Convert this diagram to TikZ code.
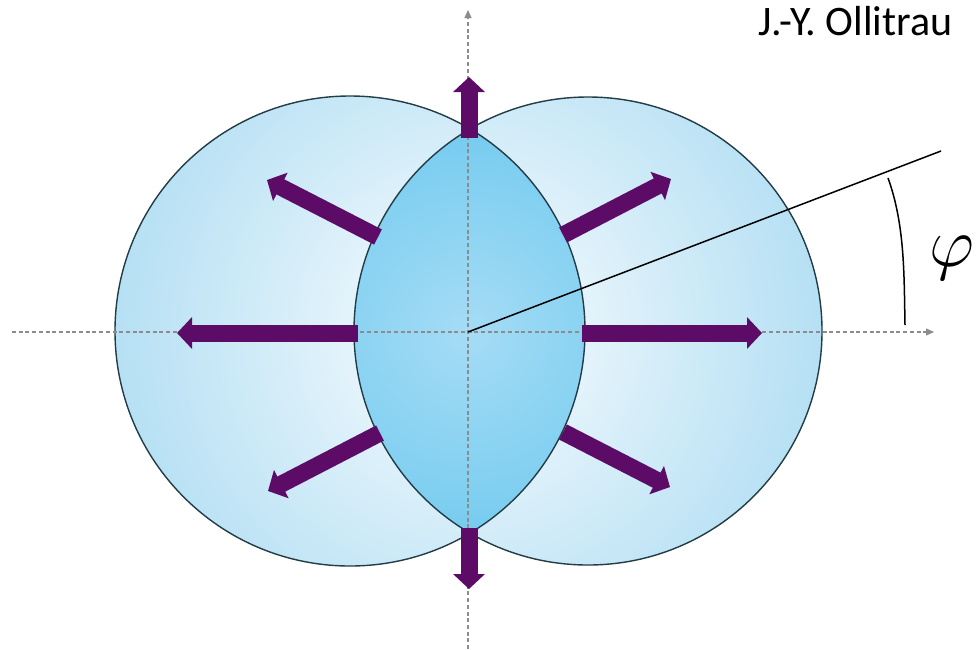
\RequirePackage{fix-cm}
\documentclass[tikz,border=0pt]{standalone}
\usepackage{fontspec}
\setmainfont{Carlito}
\usetikzlibrary{arrows.meta}
\definecolor{purp}{RGB}{92,12,102}
\definecolor{cbedge}{RGB}{145,208,237}
\definecolor{cbout}{RGB}{182,224,244}
\definecolor{cbmid}{RGB}{222,241,250}
\definecolor{lensout}{RGB}{95,193,235}
\definecolor{lensmid}{RGB}{130,208,241}
\definecolor{lensin}{RGB}{165,220,245}
\definecolor{axisgray}{RGB}{140,140,140}
\definecolor{rim}{RGB}{35,60,70}
\pgfdeclareradialshading{glow}{\pgfpoint{0bp}{0bp}}{color(0bp)=(white); color(9bp)=(cbmid); color(22bp)=(cbout); color(32bp)=(cbedge); color(50bp)=(cbedge)}
\pgfdeclareradialshading{lensglow}{\pgfpoint{0bp}{0bp}}{color(0bp)=(lensin); color(18bp)=(lensmid); color(35bp)=(lensout); color(50bp)=(lensout)}
\tikzset{
  axisline/.style={draw=axisgray, line width=1.2pt, dash pattern=on 4pt off 2.7pt, -{Triangle[length=8pt,width=7pt]}},
  bigarrow/.style={draw=purp, line width=17pt, -{Triangle[length=15pt,width=31pt]}},
  rimline/.style={draw=rim, line width=1.4pt},
  thinblack/.style={draw=black, line width=1.5pt}
}
\begin{document}
\begin{tikzpicture}[x=1pt,y=-1pt]
\useasboundingbox (0,0) rectangle (976,649);
\fill[white] (0,0) rectangle (976,649);
\coordinate (L) at (350,331);
\coordinate (R) at (588,331);
\coordinate (O) at (468,332);
% circle fill
\begin{scope}
  \clip (L) circle (235pt) (R) circle (234pt);
  \shade[shading=glow] (O) circle (400pt);
\end{scope}
% lens fill
\begin{scope}
  \clip (L) circle (235pt);
  \clip (R) circle (234pt);
  \shade[shading=lensglow] (O) circle (215pt);
\end{scope}
\draw[rimline] (L) circle (235pt) (R) circle (234pt);
% axes
\coordinate (hx0) at (12,332);
\coordinate (hx1) at (934,332);
\coordinate (vy0) at (468,649);
\coordinate (vy1) at (468,10);
\draw[axisline] (hx0) -- (hx1);
\draw[axisline] (vy0) -- (vy1);
% purple arrows
\coordinate (upA) at (469,138);  \coordinate (upB) at (469,77);
\coordinate (dnA) at (469,528);  \coordinate (dnB) at (469,589);
\coordinate (lfA) at (358,333);  \coordinate (lfB) at (177,333);
\coordinate (rtA) at (582,333);  \coordinate (rtB) at (762,333);
\coordinate (ulA) at (378,237);  \coordinate (ulB) at (267,180);
\coordinate (urA) at (563,235);  \coordinate (urB) at (671,179);
\coordinate (llA) at (380,433);  \coordinate (llB) at (268,491);
\coordinate (lrA) at (563,432);  \coordinate (lrB) at (670,487);
\foreach \a in {up,dn,lf,rt,ul,ur,ll,lr}{
  \draw[bigarrow] (\a A) -- (\a B);
}
% angle line and arc
\coordinate (E) at (941,151);
\draw[thinblack] (O) -- (E);
\coordinate (arcA) at (888,178);
\coordinate (arcB) at (905,325);
\draw[thinblack] (arcA) .. controls (905,225) and (904,275) .. (arcB);
\node[anchor=base west, inner sep=0pt, font=\fontsize{70}{80}\selectfont] (phi) at (929,266) {$\varphi$};
\node[anchor=base west, inner sep=0pt, font=\fontsize{42}{50}\selectfont] (auth) at (758,35) {J.-Y. Ollitrau};
\end{tikzpicture}
\end{document}
